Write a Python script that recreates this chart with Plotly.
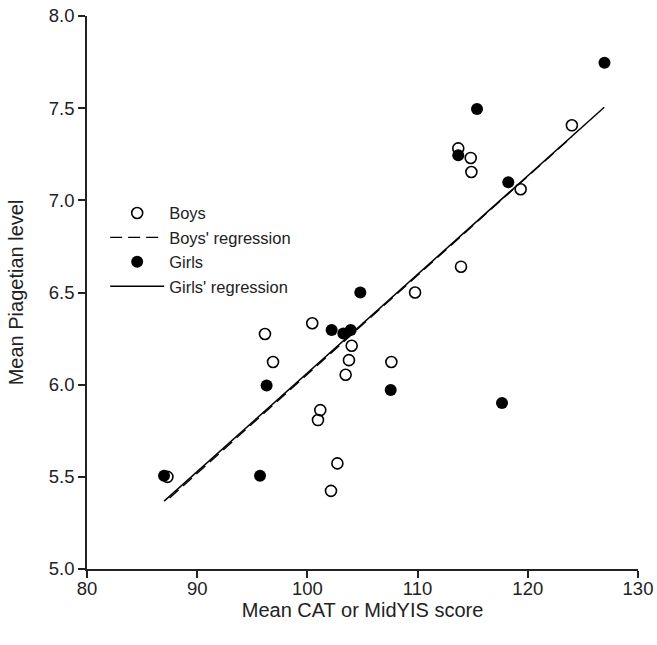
import plotly.graph_objects as go

# Boys (open circles)
boys_x = [87.3, 96.15, 96.88, 100.44, 101.17, 100.96, 102.72, 102.14, 104.02, 103.77,
          103.47, 107.62, 109.77, 113.94, 113.69, 114.82, 114.88, 119.35, 124.0]
boys_y = [5.50, 6.275, 6.123, 6.333, 5.862, 5.808, 5.573, 5.424, 6.211, 6.133,
          6.054, 6.123, 6.50, 6.64, 7.282, 7.230, 7.154, 7.060, 7.407]

# Girls (filled circles)
girls_x = [86.99, 95.7, 96.3, 102.2, 103.26, 103.93, 104.8, 107.56, 117.66,
           113.69, 115.39, 118.23, 126.96]
girls_y = [5.506, 5.506, 5.996, 6.296, 6.278, 6.296, 6.50, 5.971, 5.90,
           7.244, 7.495, 7.098, 7.747]

# Regression line end points
boys_reg_x = [87.5, 124.0]
boys_reg_y = [5.385, 7.345]
girls_reg_x = [87.0, 126.94]
girls_reg_y = [5.368, 7.505]

x_ticks = [80, 90, 100, 110, 120, 130]
y_ticks = [5.0, 5.5, 6.0, 6.5, 7.0, 7.5, 8.0]

FONT = "Liberation Sans, Arial, sans-serif"

fig = go.Figure()
fig.add_trace(go.Scatter(
    x=boys_x, y=boys_y, mode="markers", name="Boys",
    marker=dict(symbol="circle-open", size=11, color="black", line=dict(width=1.6)),
))
fig.add_trace(go.Scatter(
    x=boys_reg_x, y=boys_reg_y, mode="lines", name="Boys' regression",
    line=dict(color="black", width=1.3, dash="12px,6px"),
))
fig.add_trace(go.Scatter(
    x=girls_x, y=girls_y, mode="markers", name="Girls",
    marker=dict(symbol="circle", size=12, color="black"),
))
fig.add_trace(go.Scatter(
    x=girls_reg_x, y=girls_reg_y, mode="lines", name="Girls' regression",
    line=dict(color="black", width=1.5),
))

fig.update_layout(
    width=657, height=645,
    margin=dict(l=87, r=19, t=16, b=76, autoexpand=False),
    paper_bgcolor="white", plot_bgcolor="white",
    font=dict(family=FONT, size=18, color="#222"),
    showlegend=True,
    legend=dict(
        x=0.033, y=0.675, xanchor="left", yanchor="top",
        bgcolor="rgba(0,0,0,0)", font=dict(size=16.5, family=FONT, color="#222"),
        tracegroupgap=0, itemwidth=54,
    ),
    xaxis=dict(
        range=[80, 130], tickvals=x_ticks, ticktext=[str(v) for v in x_ticks],
        showgrid=False, zeroline=False, showline=True, linecolor="#222", linewidth=1.5,
        ticks="outside", ticklen=7, tickwidth=1.5, tickcolor="#222",
        title=dict(text="Mean CAT or MidYIS score", font=dict(size=20), standoff=3),
        tickfont=dict(size=18.5), automargin=False, ticklabelstandoff=-5,
        ticklabeloverflow="allow",
    ),
    yaxis=dict(
        range=[5.0, 8.0], tickvals=y_ticks, ticktext=[f"{v:.1f}" for v in y_ticks],
        showgrid=False, zeroline=False, showline=True, linecolor="#222", linewidth=1.5,
        ticks="outside", ticklen=7, tickwidth=1.5, tickcolor="#222",
        title=dict(text="Mean Piagetian level", font=dict(size=20), standoff=20),
        tickfont=dict(size=18.5), automargin=False, ticklabeloverflow="allow",
    ),
)

fig.write_html("out.html", config={"displayModeBar": False},
               post_script="document.body.style.margin='0';")
